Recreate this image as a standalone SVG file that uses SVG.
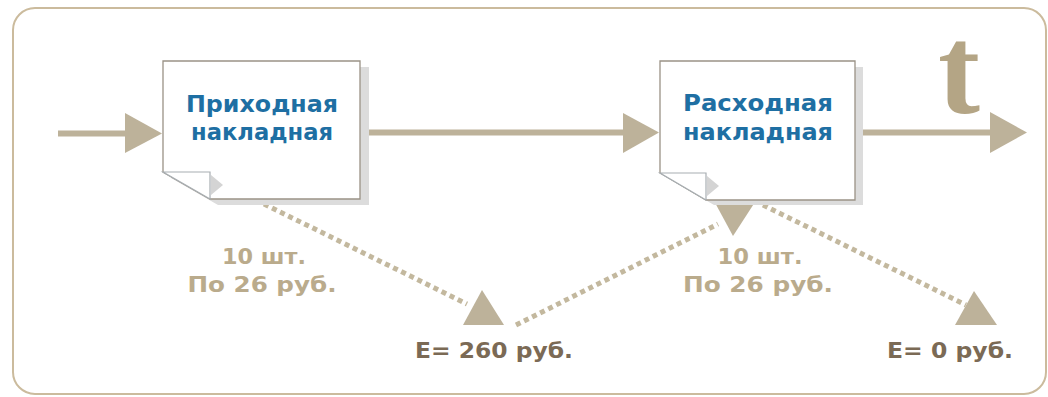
<svg xmlns="http://www.w3.org/2000/svg" width="1048" height="397" viewBox="0 0 1048 397">
<defs>
<style>
.frame{fill:#ffffff;stroke:#cbbb9d;stroke-width:2}
.shadow{fill:#dcdcdc}
.doc{fill:#ffffff;stroke:#9a9286;stroke-width:1.3}
.flap{fill:#ffffff;stroke:#a8aeb2;stroke-width:1.2}
.flapsh{fill:#d4d4d4}
.title{font-family:"DejaVu Sans",sans-serif;font-weight:bold;font-size:23px;fill:#1e6fa3;text-anchor:middle}
.qty{font-family:"DejaVu Sans",sans-serif;font-weight:bold;font-size:22px;fill:#baab8c;text-anchor:middle}
.sum{font-family:"DejaVu Sans",sans-serif;font-weight:bold;font-size:22px;fill:#7b6a55;text-anchor:middle}
.line{stroke:#bdb29a;stroke-width:6;fill:none}
.head{fill:#bdb29a}
.dots{stroke:#c3b89e;stroke-width:5;stroke-dasharray:5 4;fill:none}
.t{font-family:"Liberation Serif",serif;font-weight:bold;font-size:126px;fill:#b4a585}
</style>
</defs>
<rect class="frame" x="13" y="8" width="1033" height="386" rx="22" ry="22"/>
<text class="t" x="938" y="113">t</text>
<g id="connectors">
<line class="line" x1="58" y1="133.5" x2="130" y2="133.5"/>
<polygon class="head" points="125,113 162,133.5 125,153"/>
<line class="line" x1="368" y1="132.5" x2="626" y2="132.5"/>
<polygon class="head" points="623,113 659,132.5 623,153"/>
<line class="line" x1="863" y1="132.5" x2="993" y2="132.5"/>
<polygon class="head" points="990,112 1027,132.5 990,153"/>
<line class="dots" x1="264" y1="204" x2="467" y2="304"/>
<polygon class="head" points="482,290 504,325 463,325"/>
<line class="dots" x1="516" y1="325" x2="718" y2="224"/>
<polygon class="head" points="713,199 757,199 733,236"/>
<line class="dots" x1="763" y1="205" x2="966" y2="305"/>
<polygon class="head" points="974,291 997,325 955,325"/>
</g>
<g id="doc1">
<polygon class="shadow" points="171,67 369,67 369,205 218,205 171,178"/>
<polygon class="doc" points="163,61 360,61 360,199 210,199 163,172"/>
<polygon class="flap" points="163,172 210,172 210,199"/>
<polygon class="flapsh" points="211,175 223,185 211,195"/>
<text class="title" x="262" y="112" textLength="152" lengthAdjust="spacingAndGlyphs">Приходная</text>
<text class="title" x="262" y="140" textLength="142" lengthAdjust="spacingAndGlyphs">накладная</text>
</g>
<g id="doc2">
<polygon class="shadow" points="668,67 863,67 863,205 714,205 668,178"/>
<polygon class="doc" points="660,61 855,61 855,200 706,200 660,173"/>
<polygon class="flap" points="660,173 706,173 706,200"/>
<polygon class="flapsh" points="707,176 719,186 707,196"/>
<text class="title" x="758" y="111" textLength="150" lengthAdjust="spacingAndGlyphs">Расходная</text>
<text class="title" x="758" y="140" textLength="150" lengthAdjust="spacingAndGlyphs">накладная</text>
</g>
<g id="label1">
<text class="qty" x="264" y="264" textLength="84" lengthAdjust="spacingAndGlyphs">10 шт.</text>
<text class="qty" x="262" y="292" textLength="149" lengthAdjust="spacingAndGlyphs">По 26 руб.</text>
</g>
<g id="label2">
<text class="qty" x="760" y="264" textLength="85" lengthAdjust="spacingAndGlyphs">10 шт.</text>
<text class="qty" x="758" y="292" textLength="150" lengthAdjust="spacingAndGlyphs">По 26 руб.</text>
</g>
<g id="sum1">
<text class="sum" x="494" y="358" textLength="158" lengthAdjust="spacingAndGlyphs">E= 260 руб.</text>
</g>
<g id="sum2">
<text class="sum" x="950" y="358" textLength="126" lengthAdjust="spacingAndGlyphs">E= 0 руб.</text>
</g>
</svg>
